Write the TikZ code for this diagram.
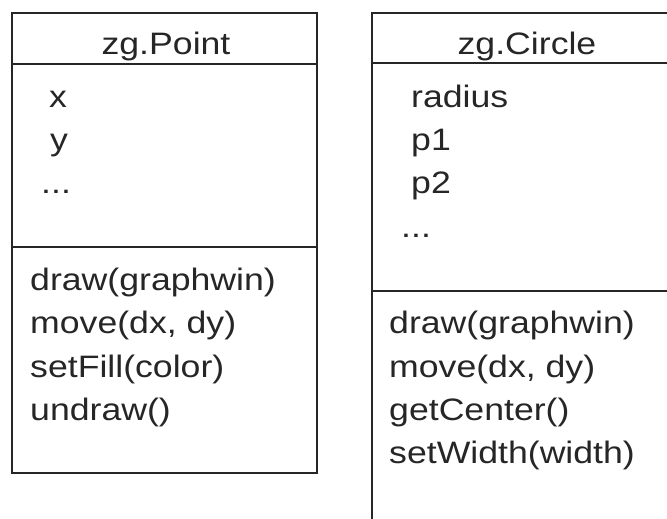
\documentclass[tikz,border=0pt]{standalone}
\usepackage{fontspec}
\setmainfont{Liberation Sans}[FakeStretch=1.15]
\usepackage{tikz}

\begin{document}
\begin{tikzpicture}[x=1pt,y=-1pt,
    member/.style={anchor=base west,inner sep=0pt,color=black!85,font=\fontsize{31}{31}\selectfont},
    title/.style={anchor=base,inner sep=0pt,color=black!85,font=\fontsize{31}{31}\selectfont},
    box/.style={color=black!85,line width=2pt}]
               \useasboundingbox (0,0) rectangle (667,519);
               \clip (0,0) rectangle (667,519);
               % zg.Point
               \draw[box] (12,13) rectangle (317,473);
               \draw[box] (12,64) -- (317,64);
               \draw[box] (12,247) -- (317,247);
               \node[title] (ptitle) at (166,55) {zg.Point};
               \node[member] (px) at (49,107) {x};
               \node[member] (py) at (50,150) {y};
               \node[member] (pdots) at (41,193) {...};
               \node[member] (pdraw) at (30,290) {draw(graphwin)};
               \node[member] (pmove) at (30,333) {move(dx, dy)};
               \node[member] (pfill) at (30,377) {setFill(color)};
               \node[member] (pundraw) at (30,420) {undraw()};
               % zg.Circle
               \draw[box] (372,13) rectangle (700,560);
               \draw[box] (372,63) -- (700,63);
               \draw[box] (372,291) -- (700,291);
               \node[title] (ctitle) at (527,55) {zg.Circle};
               \node[member] (cradius) at (411,107) {radius};
               \node[member] (cpa) at (411,150) {p1};
               \node[member] (cpb) at (411,193) {p2};
               \node[member] (cdots) at (401,237) {...};
               \node[member] (cdraw) at (389,333) {draw(graphwin)};
               \node[member] (cmove) at (389,377) {move(dx, dy)};
               \node[member] (ccenter) at (389,420) {getCenter()};
               \node[member] (cwidth) at (389,463) {setWidth(width)};
           \end{tikzpicture}
\end{document}
